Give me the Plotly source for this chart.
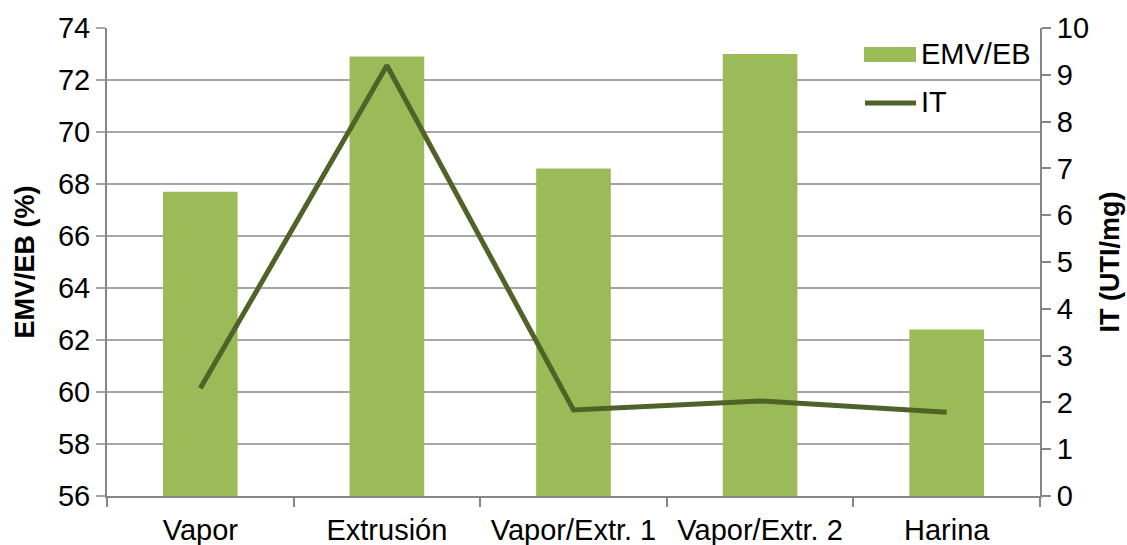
import plotly.graph_objects as go

categories = ["Vapor", "Extrusión", "Vapor/Extr. 1", "Vapor/Extr. 2", "Harina"]
emv_eb = [67.7, 72.9, 68.6, 73.0, 62.4]
it_values = [2.3, 9.2, 1.84, 2.03, 1.79]

bar_color = "#9BBB59"
line_color = "#4F6228"
axis_gray = "#868686"
grid_gray = "#A6A6A6"
font_family = "Liberation Sans, Arial, sans-serif"

# plot area in pixels (used to place the hand-drawn legend)
W, H = 1127, 545
ML, MR, MT, MB = 107, 87, 28, 49
PW, PH = W - ML - MR, H - MT - MB


def px(x):
    return (x - ML) / PW


def py(y):
    return (H - MB - y) / PH


fig = go.Figure()

fig.add_trace(go.Bar(
    x=categories, y=emv_eb, name="EMV/EB",
    marker=dict(color=bar_color, line=dict(width=0)),
    width=0.4, yaxis="y",
))

fig.add_trace(go.Scatter(
    x=categories, y=it_values, name="IT",
    mode="lines", line=dict(color=line_color, width=5),
    yaxis="y2",
))

# legend: wide bar swatch and line swatch with labels
fig.add_shape(type="rect", xref="paper", yref="paper",
              x0=px(864), x1=px(916), y0=py(62), y1=py(47),
              fillcolor=bar_color, line=dict(width=0))
fig.add_shape(type="line", xref="paper", yref="paper",
              x0=px(865), x1=px(916), y0=py(103), y1=py(103),
              line=dict(color=line_color, width=5))
fig.add_annotation(text="EMV/EB", xref="paper", yref="paper",
                   x=px(919), y=py(54), xanchor="left", yanchor="middle",
                   showarrow=False, font=dict(size=29))
fig.add_annotation(text="IT", xref="paper", yref="paper",
                   x=px(919), y=py(102), xanchor="left", yanchor="middle",
                   showarrow=False, font=dict(size=29))

fig.update_layout(
    width=W, height=H,
    margin=dict(l=ML, r=MR, t=MT, b=MB, autoexpand=False),
    paper_bgcolor="white", plot_bgcolor="white",
    font=dict(family=font_family, size=29, color="black"),
    showlegend=False,
    xaxis=dict(
        type="category", automargin=False,
        showline=True, linecolor=axis_gray, linewidth=2,
        ticks="outside", tickson="boundaries", ticklen=9,
        tickcolor=axis_gray, tickwidth=2,
        showgrid=False,
        tickfont=dict(size=29),
        ticklabelstandoff=7,
    ),
    yaxis=dict(
        range=[56, 74], dtick=2, tick0=56, automargin=False,
        showline=True, linecolor=axis_gray, linewidth=2,
        ticks="outside", ticklen=9, tickcolor=grid_gray, tickwidth=2,
        showgrid=True, gridcolor=grid_gray, gridwidth=2,
        zeroline=False,
        title=dict(text="<b>EMV/EB (%)</b>", font=dict(size=27), standoff=15),
        tickfont=dict(size=29),
    ),
    yaxis2=dict(
        range=[0, 10], dtick=1, tick0=0, automargin=False,
        overlaying="y", side="right",
        showline=True, linecolor=axis_gray, linewidth=2,
        ticks="outside", ticklen=9, tickcolor=axis_gray, tickwidth=2,
        showgrid=False, zeroline=False,
        title=dict(text="<b>IT (UTI/mg)</b>", font=dict(size=27), standoff=12),
        tickfont=dict(size=29),
    ),
    bargap=0.6,
)

fig.write_html("out.html")
